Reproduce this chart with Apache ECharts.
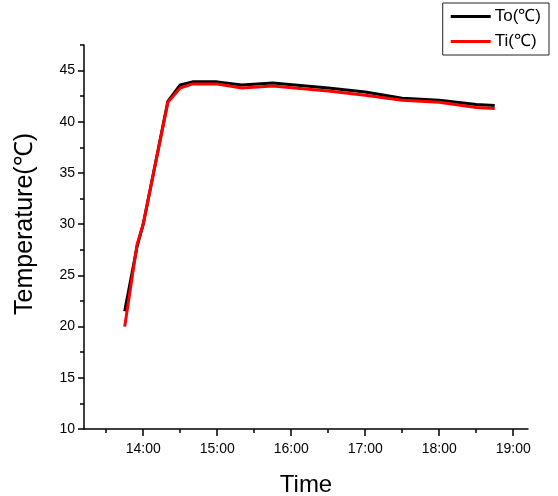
<!DOCTYPE html>
<html>
<head>
<meta charset="utf-8">
<script src="https://cdn.jsdelivr.net/npm/echarts@6/dist/echarts.min.js"></script>
<style>
  html, body { margin: 0; padding: 0; background: #fff; }
  #chart { width: 558px; height: 496px; }
</style>
</head>
<body>
<div id="chart"></div>
<script>
// Sampling times (HH:MM) and temperatures of the two probes
const times = ['13:45', '13:55', '14:00', '14:20', '14:30', '14:40', '15:00', '15:20',
               '15:45', '16:30', '17:00', '17:30', '18:00', '18:30', '18:45'];
const toValues = [21.5, 27.8, 30.0, 42.0, 43.6, 43.9, 43.9, 43.6,
                  43.8, 43.3, 42.9, 42.3, 42.1, 41.7, 41.6];
const tiValues = [20.0, 28.0, 30.0, 41.9, 43.3, 43.7, 43.7, 43.3,
                  43.5, 43.0, 42.6, 42.1, 41.9, 41.4, 41.3];

// Axis ticks
const hourTicks = ['14:00', '15:00', '16:00', '17:00', '18:00', '19:00'];
const halfHourTicks = ['13:30', '14:30', '15:30', '16:30', '17:30', '18:30'];
const tempMajorTicks = [10, 15, 20, 25, 30, 35, 40, 45];
const tempMinorTicks = [12.5, 17.5, 22.5, 27.5, 32.5, 37.5, 42.5, 47.5];

const toMinutes = s => { const [h, m] = s.split(':').map(Number); return h * 60 + m; };
const fmtTime = v => {
  const h = Math.floor(v / 60), m = Math.round(v - h * 60);
  return h + ':' + String(m).padStart(2, '0');
};

const xMin = toMinutes('13:12');
const xMax = toMinutes('19:12');
const FONT = '"Liberation Sans", Arial, sans-serif';

const chart = echarts.init(document.getElementById('chart'));
chart.setOption({
  animation: false,
  backgroundColor: '#fff',
  grid: { left: 84, right: 30, top: 45, bottom: 67, outerBoundsMode: 'none', containLabel: false },
  legend: {
    orient: 'vertical',
    right: 9,
    top: 3,
    padding: [5, 8, 5, 8],
    borderColor: '#222',
    borderWidth: 1,
    itemWidth: 40,
    itemHeight: 3,
    itemGap: 8,
    icon: 'rect',
    textStyle: { fontFamily: FONT, fontSize: 17, color: '#000', padding: [0, 0, 0, -1] },
    data: ['To(℃)', 'Ti(℃)']
  },
  xAxis: [
    {
      type: 'value',
      min: xMin,
      max: xMax,
      name: 'Time',
      nameLocation: 'middle',
      nameGap: 44,
      nameTextStyle: { fontFamily: FONT, fontSize: 24, color: '#000' },
      axisLine: { show: true, lineStyle: { color: '#000', width: 1.5 } },
      axisTick: { show: true, length: 7, customValues: hourTicks.map(toMinutes), lineStyle: { color: '#000', width: 1.5 } },
      axisLabel: { customValues: hourTicks.map(toMinutes), formatter: fmtTime, margin: 13,
                   fontFamily: FONT, fontSize: 14, color: '#000' },
      splitLine: { show: false }
    },
    {
      type: 'value',
      min: xMin,
      max: xMax,
      position: 'bottom',
      axisLine: { show: false },
      axisTick: { show: true, length: 4, customValues: halfHourTicks.map(toMinutes), lineStyle: { color: '#000', width: 1.5 } },
      axisLabel: { show: false },
      splitLine: { show: false }
    }
  ],
  yAxis: [
    {
      type: 'value',
      min: 10,
      max: 47.5,
      name: 'Temperature(℃)',
      nameLocation: 'middle',
      nameGap: 46,
      nameTextStyle: { fontFamily: FONT, fontSize: 25, color: '#000', padding: [0, 0, 0, 26] },
      axisLine: { show: true, lineStyle: { color: '#000', width: 1.5 } },
      axisTick: { show: true, length: 6, customValues: tempMajorTicks, lineStyle: { color: '#000', width: 1.5 } },
      axisLabel: { customValues: tempMajorTicks, margin: 9, fontFamily: FONT, fontSize: 14, color: '#000' },
      splitLine: { show: false }
    },
    {
      type: 'value',
      min: 10,
      max: 47.5,
      position: 'left',
      axisLine: { show: false },
      axisTick: { show: true, length: 4, customValues: tempMinorTicks, lineStyle: { color: '#000', width: 1.5 } },
      axisLabel: { show: false },
      splitLine: { show: false }
    }
  ],
  series: [
    {
      name: 'To(℃)',
      type: 'line',
      xAxisIndex: 0,
      yAxisIndex: 0,
      showSymbol: false,
      symbol: 'none',
      lineStyle: { color: '#000', width: 3 },
      itemStyle: { color: '#000' },
      data: times.map((t, i) => [toMinutes(t), toValues[i]])
    },
    {
      name: 'Ti(℃)',
      type: 'line',
      xAxisIndex: 0,
      yAxisIndex: 0,
      showSymbol: false,
      symbol: 'none',
      lineStyle: { color: '#ff0000', width: 3 },
      itemStyle: { color: '#ff0000' },
      data: times.map((t, i) => [toMinutes(t), tiValues[i]])
    }
  ]
});
</script>
</body>
</html>
